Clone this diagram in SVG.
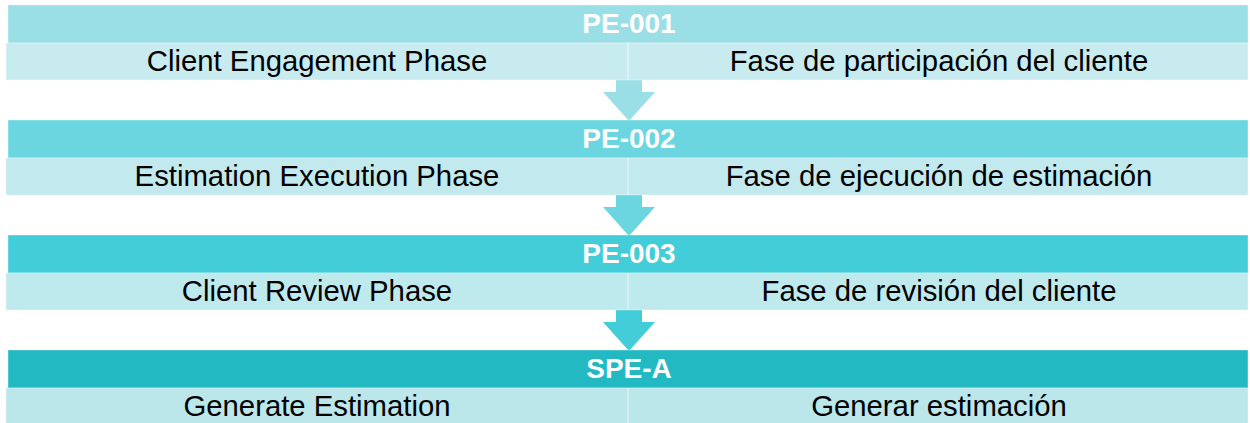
<svg xmlns="http://www.w3.org/2000/svg" width="1250" height="423" viewBox="0 0 1250 423">
<style>
.hd{font-family:"Liberation Sans",Arial,sans-serif;font-weight:bold;font-size:28px;fill:#ffffff;text-anchor:middle}
.sb{font-family:"Liberation Sans",Arial,sans-serif;font-size:29.3px;fill:#000000;text-anchor:middle}
.edge{stroke:#ffffff;stroke-opacity:0.35;stroke-width:1}
.div{stroke:#ffffff;stroke-opacity:0.45;stroke-width:1.5}
</style>
<rect width="1250" height="423" fill="#ffffff"/>
<g id="connectors">
<polygon points="616,80 642,80 642,92 655,92 629,121 603,92 616,92" fill="#9BDFE6"/>
<polygon points="616,195 642,195 642,207 655,207 629,236 603,207 616,207" fill="#6CD6E0"/>
<polygon points="616,310 642,310 642,322 655,322 629,351 603,322 616,322" fill="#42CDD8"/>
</g>
<g id="PE-001">
<rect x="8" y="5" width="1240" height="38" fill="#9BDFE6" class="edge"/>
<rect x="6" y="43" width="1242" height="37" fill="#C8EBEF" class="edge"/>
<line x1="628" y1="43" x2="628" y2="80" class="div"/>
<text x="629" y="33" class="hd">PE-001</text>
<text x="317" y="71" class="sb">Client Engagement Phase</text>
<text x="939" y="71" class="sb">Fase de participación del cliente</text>
</g>
<g id="PE-002">
<rect x="8" y="120" width="1240" height="38" fill="#6CD6E0" class="edge"/>
<rect x="6" y="158" width="1242" height="37" fill="#C2EAEE" class="edge"/>
<line x1="628" y1="158" x2="628" y2="195" class="div"/>
<text x="629" y="148" class="hd">PE-002</text>
<text x="317" y="186" class="sb">Estimation Execution Phase</text>
<text x="939" y="186" class="sb">Fase de ejecución de estimación</text>
</g>
<g id="PE-003">
<rect x="8" y="235" width="1240" height="38" fill="#42CDD8" class="edge"/>
<rect x="6" y="273" width="1242" height="37" fill="#BEE9ED" class="edge"/>
<line x1="628" y1="273" x2="628" y2="310" class="div"/>
<text x="629" y="263" class="hd">PE-003</text>
<text x="317" y="301" class="sb">Client Review Phase</text>
<text x="939" y="301" class="sb">Fase de revisión del cliente</text>
</g>
<g id="SPE-A">
<rect x="8" y="350" width="1240" height="38" fill="#22B9C3" class="edge"/>
<rect x="6" y="388" width="1242" height="37" fill="#BBE6EA" class="edge"/>
<line x1="628" y1="388" x2="628" y2="423" class="div"/>
<text x="629" y="378" class="hd">SPE-A</text>
<text x="317" y="416" class="sb">Generate Estimation</text>
<text x="939" y="416" class="sb">Generar estimación</text>
</g>
</svg>
